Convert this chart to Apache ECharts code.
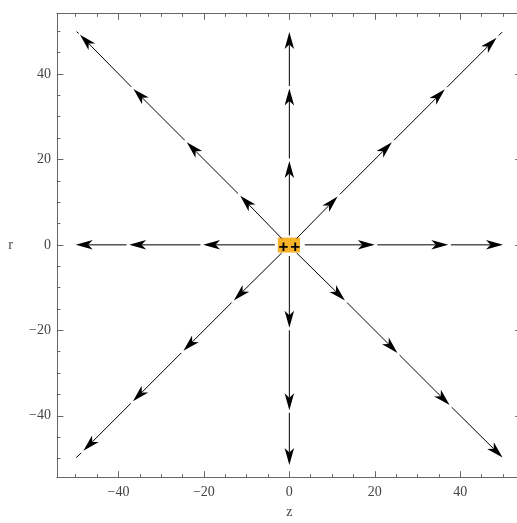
<!DOCTYPE html>
<html><head><meta charset="utf-8">
<script src="https://cdn.jsdelivr.net/npm/echarts@6/dist/echarts.min.js"></script>
<style>html,body{margin:0;padding:0;background:#fff}#c{width:517px;height:523px}</style>
</head><body><div id="c"></div>
<script>
// axis ranges and ticks
const xRange = [-54.4, 54.4];
const yRange = [-54.5, 54.2];
const majorTicks = [-40, -20, 0, 20, 40];
const minorTicks = [-50, -45, -35, -30, -25, -15, -10, -5, 5, 10, 15, 25, 30, 35, 45, 50];

// field-line segments: [x1, y1, x2, y2, hasArrow]
const rayRight = [[3.6,0,20,0,1],[20.6,0,37.2,0,1],[37.8,0,50,0,1]];
const rayLeft  = [[-3.4,0,-20.2,0,1],[-20.8,0,-37.5,0,1],[-38.1,0,-50,0,1]];
const rayUp    = [[0,2.2,0,19.6,1],[0,20.2,0,36.6,1],[0,37.2,0,49.8,1]];
const rayDown  = [[0,-2.6,0,-19.4,1],[0,-20,0,-38.7,1],[0,-39.3,0,-51.5,1]];
const rayUpRight   = [[1.7,1.5,11.3,11.3,1],[11.8,11.8,24,24,1],[24.5,24.5,36.4,36.4,1],[36.9,36.9,48.5,48.5,1],[49,49,49.8,49.8,0]];
const rayUpLeft    = [[-1.8,1.5,-11.5,11.5,1],[-12,12,-24,24,1],[-24.5,24.5,-36.5,36.5,1],[-37,37,-49,49.2,1],[-49.3,49.5,-49.8,49.9,0]];
const rayDownLeft  = [[-1.8,-1.9,-13,-13,1],[-13.5,-13.5,-24.8,-24.8,1],[-25.3,-25.3,-36.6,-36.6,1],[-37.1,-37.1,-48.2,-48.2,1],[-48.7,-48.7,-49.9,-49.8,0]];
const rayDownRight = [[1.7,-1.9,13,-13,1],[13.5,-13.5,25.3,-25.3,1],[25.8,-25.8,37.5,-37.5,1],[38,-38,49.9,-49.8,1]];

// charged region and charges
const chargeBox = [[-2.7, 1.7, 2.5, -1.8]];
const charges = [[-1.4, 0], [1.4, 0]];

const allSegments = [].concat(rayRight, rayLeft, rayUp, rayDown, rayUpRight, rayUpLeft, rayDownLeft, rayDownRight);

const AH_LEN = 17, AH_W = 9.5, AH_NOTCH = 4.5;

function renderSeg(params, api) {
  const p1 = api.coord([api.value(0), api.value(1)]);
  const p2 = api.coord([api.value(2), api.value(3)]);
  const arrow = api.value(4);
  const dx = p2[0] - p1[0], dy = p2[1] - p1[1];
  const len = Math.hypot(dx, dy) || 1;
  const ux = dx / len, uy = dy / len, nx = -uy, ny = ux;
  const children = [];
  let end = p2;
  if (arrow) {
    const bx = p2[0] - ux * AH_LEN, by = p2[1] - uy * AH_LEN;
    const mx = p2[0] - ux * (AH_LEN - AH_NOTCH), my = p2[1] - uy * (AH_LEN - AH_NOTCH);
    end = [mx, my];
    children.push({
      type: 'polygon',
      shape: { points: [p2, [bx + nx * AH_W / 2, by + ny * AH_W / 2], [mx, my], [bx - nx * AH_W / 2, by - ny * AH_W / 2]] },
      style: { fill: '#000' }
    });
  }
  children.unshift({
    type: 'line',
    shape: { x1: p1[0], y1: p1[1], x2: end[0], y2: end[1] },
    style: { stroke: '#000', lineWidth: 1 }
  });
  return { type: 'group', children };
}

function renderBox(params, api) {
  const a = api.coord([api.value(0), api.value(1)]);
  const b = api.coord([api.value(2), api.value(3)]);
  return { type: 'rect', shape: { x: a[0], y: a[1], width: b[0] - a[0], height: b[1] - a[1] }, style: { fill: '#f8b228' } };
}

function renderCharge(params, api) {
  const p = api.coord([api.value(0), api.value(1)]);
  return { type: 'text', x: p[0], y: p[1] + 2, style: { text: '+', fontSize: 17, fontWeight: 'bold', fontFamily: 'Liberation Sans', fill: '#000', align: 'center', verticalAlign: 'middle' } };
}

const fmt = v => String(v).replace('-', '\u2212');
const frameColor = '#666';
const labelStyle = { color: '#444', fontFamily: 'Liberation Serif', fontSize: 14 };

function axis(kind, pos, minor, labels, extra) {
  const range = kind === 'x' ? xRange : yRange;
  const ax = {
    type: 'value', position: pos, min: range[0], max: range[1],
    axisLine: { show: !minor, onZero: false, lineStyle: { color: frameColor, width: 1 } },
    splitLine: { show: false },
    axisTick: { show: true, inside: true, length: minor ? 3.5 : 6.5, customValues: minor ? minorTicks : majorTicks, lineStyle: { color: frameColor, width: 1 } },
    axisLabel: labels ? Object.assign({ show: true, customValues: majorTicks, formatter: fmt, margin: kind === 'x' ? 8 : 6 }, labelStyle) : { show: false }
  };
  return Object.assign(ax, extra || {});
}

const chart = echarts.init(document.getElementById('c'), null, { renderer: 'canvas' });
chart.setOption({
  animation: false,
  backgroundColor: '#fff',
  grid: { left: 56.9, right: -4.8, top: 13.3, bottom: 45.3, containLabel: false, outerBoundsMode: 'none' },
  xAxis: [
    axis('x', 'bottom', false, true, { name: 'z', nameLocation: 'middle', nameGap: 28, nameTextStyle: { color: '#444', fontFamily: 'Liberation Serif', fontSize: 14 } }),
    axis('x', 'bottom', true, false),
    axis('x', 'top', false, false),
    axis('x', 'top', true, false)
  ],
  yAxis: [
    axis('y', 'left', false, true, { name: 'r', nameLocation: 'middle', nameGap: 44, nameRotate: 0, nameTextStyle: { color: '#444', fontFamily: 'Liberation Serif', fontSize: 14 } }),
    axis('y', 'left', true, false),
    axis('y', 'right', false, false),
    axis('y', 'right', true, false)
  ],
  series: [
    { type: 'custom', xAxisIndex: 0, yAxisIndex: 0, renderItem: renderBox, data: chargeBox, z: 2 },
    { type: 'custom', xAxisIndex: 0, yAxisIndex: 0, renderItem: renderSeg, data: allSegments, z: 3 },
    { type: 'custom', xAxisIndex: 0, yAxisIndex: 0, renderItem: renderCharge, data: charges, z: 4 }
  ]
});
</script></body></html>
